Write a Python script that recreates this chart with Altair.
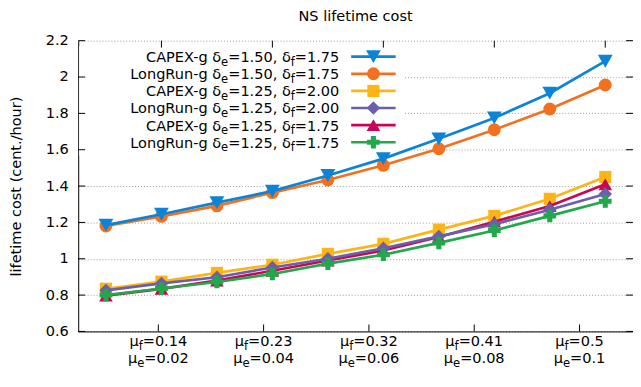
import altair as alt
import pandas as pd

# ---------------- data ----------------
x_index = [1, 2, 3, 4, 5, 6, 7, 8, 9, 10]
methods = ["CAPEX-g", "LongRun-g", "CAPEX-g", "LongRun-g", "CAPEX-g", "LongRun-g"]
delta_e = ["1.50", "1.50", "1.25", "1.25", "1.25", "1.25"]
delta_f = ["1.75", "1.75", "2.00", "2.00", "1.75", "1.75"]

capex_150_175 = [1.185, 1.245, 1.309, 1.372, 1.458, 1.551, 1.660, 1.775, 1.911, 2.087]
longrun_150_175 = [1.180, 1.233, 1.291, 1.364, 1.433, 1.514, 1.605, 1.710, 1.824, 1.956]
capex_125_200 = [0.835, 0.874, 0.922, 0.967, 1.027, 1.082, 1.160, 1.236, 1.330, 1.450]
longrun_125_200 = [0.826, 0.864, 0.898, 0.952, 1.000, 1.058, 1.123, 1.190, 1.270, 1.356]
capex_125_175 = [0.797, 0.834, 0.880, 0.934, 0.990, 1.045, 1.120, 1.204, 1.290, 1.410]
longrun_125_175 = [0.800, 0.836, 0.872, 0.916, 0.973, 1.022, 1.087, 1.155, 1.236, 1.316]
series_values = [capex_150_175, longrun_150_175, capex_125_200,
                 longrun_125_200, capex_125_175, longrun_125_175]

y_ticks = [0.6, 0.8, 1.0, 1.2, 1.4, 1.6, 1.8, 2.0, 2.2]
label_ticks = [1.944, 3.842, 5.740, 7.638, 9.536]
mu_f_labels = ["0.14", "0.23", "0.32", "0.41", "0.5"]
mu_e_labels = ["0.02", "0.04", "0.06", "0.08", "0.1"]
top_ticks = [2, 4, 6, 8, 10]
title_text = "NS lifetime cost"
y_title = "lifetime cost (cent./hour)"

# ---------------- style ----------------
colors = ["#0b84d6", "#f2711f", "#fcb514", "#6b5fac", "#cc0552", "#21a84a"]
shapes = ["triangle-down", "circle", "square", "diamond", "triangle-up", "cross"]
sizes = [225, 170, 150, 185, 190, 165]
z_order = [1, 0, 2, 4, 3, 5]

FONT = "DejaVu Sans"
FS = 14.67
SS = 11.7
SUB_DY = 3.5
LW = 2.7

W, H = 561, 294
XD = [0.5, 10.5]
YD = [0.6, 2.2]


def px2x(p):
    return XD[0] + p / W * (XD[1] - XD[0])


def py2y(p):
    return YD[1] - p / H * (YD[1] - YD[0])


EM = {" ": 651, "(": 799, ")": 799, ",": 651, "-": 739, ".": 651, "/": 690,
      "=": 1716, "A": 1401, "C": 1430, "E": 1294, "L": 1141, "N": 1532,
      "P": 1235, "R": 1423, "S": 1300, "X": 1403, "c": 1126, "e": 1260,
      "f": 721, "g": 1300, "h": 1298, "i": 569, "l": 569, "m": 1995,
      "n": 1298, "o": 1253, "r": 842, "s": 1067, "t": 803, "u": 1298,
      "δ": 1253, "μ": 1300}
for d in "0123456789":
    EM[d] = 1303


def tw(s, size):
    return sum(EM.get(c, 1200) for c in s) / 2048.0 * size


xs = alt.Scale(domain=XD, nice=False, zero=False)
ys = alt.Scale(domain=YD, nice=False, zero=False)

AX_X = alt.Axis(labels=False, ticks=False, grid=False, title=None,
                domain=True, domainColor="black", domainWidth=1)
AX_Y = alt.Axis(values=y_ticks, format=".2~f", ticks=False,
                grid=True, gridDash=[1, 2], gridColor="#9a9a9a", gridWidth=1,
                domain=True, domainColor="black", domainWidth=1,
                labelFont=FONT, labelFontSize=FS, labelColor="black", labelPadding=10,
                title=y_title, titleFont=FONT, titleFontSize=FS,
                titleFontWeight="normal", titleColor="black", titleAngle=270,
                titleX=-62.5, titleY=H / 2, titleAlign="center", titleBaseline="middle")


def X(f):
    return alt.X(f, scale=xs, axis=AX_X)


def Y(f):
    return alt.Y(f, scale=ys, axis=AX_Y)


# ---------------- frame: ticks & axes ----------------
box = alt.Chart(pd.DataFrame({"a": [0]})).mark_rect(color="white").encode(
    x=alt.value(1), x2=alt.value(329), y=alt.value(6), y2=alt.value(116))

bottom = alt.Chart(pd.DataFrame({"t": label_ticks})).mark_rule(
    color="black", strokeWidth=1).encode(
    x=X("t:Q"), y=alt.value(H), y2=alt.value(H - 7))

left = alt.Chart(pd.DataFrame({"v": y_ticks})).mark_rule(
    color="black", strokeWidth=1).encode(
    y=Y("v:Q"), x=alt.value(0), x2=alt.value(7))

right = alt.Chart(pd.DataFrame({"v": y_ticks})).mark_rule(
    color="black", strokeWidth=1).encode(
    y=Y("v:Q"), x=alt.value(W - 7), x2=alt.value(W))

top = alt.Chart(pd.DataFrame({"t": top_ticks})).mark_rule(
    color="black", strokeWidth=1).encode(
    x=X("t:Q"), y=alt.value(0), y2=alt.value(7))

layers = [box, bottom, left, right, top]

# ---------------- data series ----------------
for i in z_order:
    df = pd.DataFrame({"x": x_index, "y": series_values[i]})
    ln = alt.Chart(df).mark_line(color=colors[i], strokeWidth=LW).encode(
        x=X("x:Q"), y=Y("y:Q"))
    pt = alt.Chart(df).mark_point(
        shape=shapes[i], size=sizes[i], filled=True, color=colors[i],
        opacity=1, strokeWidth=0).encode(x=X("x:Q"), y=Y("y:Q"))
    layers += [ln, pt]

# ---------------- legend ----------------
R = 264.0
leg_main, leg_sub = [], []
for k in range(6):
    base = 21.7 + 17.3 * k
    liney = 16.2 + 17.3 * k
    ldf = pd.DataFrame({"x1": [px2x(276)], "x2": [px2x(321)],
                        "xm": [px2x(298.5)], "y": [py2y(liney)]})
    layers.append(alt.Chart(ldf).mark_rule(color=colors[k], strokeWidth=LW).encode(
        x=X("x1:Q"), x2="x2:Q", y=Y("y:Q")))
    layers.append(alt.Chart(ldf).mark_point(
        shape=shapes[k], size=sizes[k], filled=True, color=colors[k],
        opacity=1, strokeWidth=0).encode(x=X("xm:Q"), y=Y("y:Q")))
    segs = [(methods[k] + " δ", False), ("e", True), ("=" + delta_e[k] + ", δ", False),
            ("f", True), ("=" + delta_f[k], False)]
    r = R
    for txt, sub in reversed(segs):
        row = {"x": px2x(r), "y": py2y(base), "text": txt}
        (leg_sub if sub else leg_main).append(row)
        r -= tw(txt, SS if sub else FS)

# ---------------- x labels ----------------
xl_main, xl_sub = [], []
for t, mf, me in zip(label_ticks, mu_f_labels, mu_e_labels):
    tpx = (t - XD[0]) / (XD[1] - XD[0]) * W
    for base, sub_c, val in [(309.0, "f", mf), (326.0, "e", me)]:
        segs = [("μ", False), (sub_c, True), ("=" + val, False)]
        total = sum(tw(s, SS if b else FS) for s, b in segs)
        p = tpx - total / 2
        for txt, sub in segs:
            row = {"x": px2x(p), "y": py2y(base), "text": txt}
            (xl_sub if sub else xl_main).append(row)
            p += tw(txt, SS if sub else FS)

title_rows = [{"x": px2x(W / 2), "y": py2y(-20.0), "text": title_text}]


def text_layer(rows, size, align, dy):
    return alt.Chart(pd.DataFrame(rows)).mark_text(
        font=FONT, fontSize=size, align=align, baseline="alphabetic",
        color="black", dy=dy).encode(x=X("x:Q"), y=Y("y:Q"), text="text:N")


layers += [text_layer(leg_main, FS, "right", 0), text_layer(leg_sub, SS, "right", SUB_DY),
           text_layer(xl_main, FS, "left", 0), text_layer(xl_sub, SS, "left", SUB_DY),
           text_layer(title_rows, FS, "center", 0)]

chart = alt.layer(*layers).properties(
    width=W, height=H,
    autosize=alt.AutoSizeParams(type="none"),
    padding={"left": 71, "top": 31, "right": 0, "bottom": 40},
).configure_view(stroke=None)

chart.save("out.html", embed_options={"renderer": "svg", "actions": False})
